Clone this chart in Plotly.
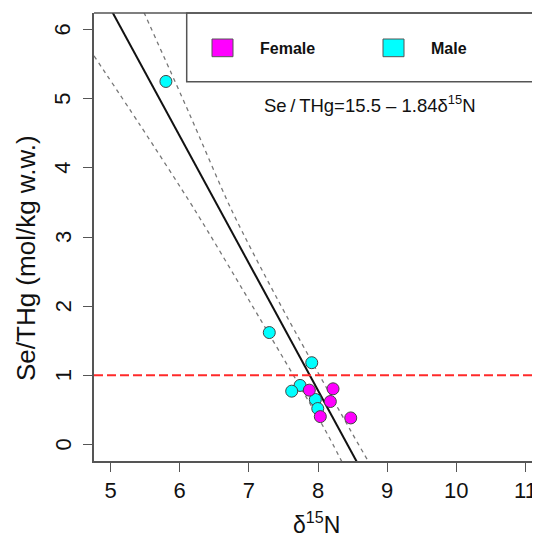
import plotly.graph_objects as go

# ---- data ----
female_x = [7.874, 8.217, 8.178, 8.033, 8.473]
female_y = [0.785, 0.804, 0.620, 0.402, 0.383]

male_x = [5.80, 7.295, 7.909, 7.740, 7.619, 7.961, 7.996]
male_y = [5.25, 1.618, 1.182, 0.853, 0.770, 0.650, 0.519]

fit_intercept = 15.5
fit_slope = -1.84

upper_x = [5.482, 6.133, 6.751, 7.425, 8.463, 8.728]
upper_y = [6.25, 4.797, 3.387, 2.078, 0.214, -0.247]
lower_x = [4.76, 5.424, 6.22, 7.006, 8.10, 8.343]
lower_y = [5.62, 4.622, 3.387, 2.078, 0.214, -0.247]

threshold = 1.0
x_ticks = [5, 6, 7, 8, 9, 10, 11]
y_ticks = [0, 1, 2, 3, 4, 5, 6]
x_range = [4.76, 11.21]
y_range = [-0.24, 6.24]

# ---- layout (page has an 8px body margin) ----
OFF = 8
W, H = 540 - OFF, 538 - OFF
PLOT_L, PLOT_R, PLOT_T, PLOT_B = 94, 540, 13, 461      # page pixels
L, R, T, B = PLOT_L - OFF, 0, PLOT_T - OFF, 538 - PLOT_B
PW, PH = PLOT_R - PLOT_L, PLOT_B - PLOT_T


def px(p):
    return (p - PLOT_L) / PW


def py(p):
    return (PLOT_B - p) / PH


FONT = "Liberation Sans, Arial, Helvetica, sans-serif"
AX = "#555555"

fig = go.Figure()

fit_x = [x_range[0], x_range[1]]
fit_y = [fit_intercept + fit_slope * v for v in fit_x]

band_line = dict(color="#777777", width=1.3, dash="4px,4px", shape="spline", smoothing=0.8)
fig.add_trace(go.Scatter(x=upper_x, y=upper_y, mode="lines", line=band_line, hoverinfo="skip", showlegend=False))
fig.add_trace(go.Scatter(x=lower_x, y=lower_y, mode="lines", line=band_line, hoverinfo="skip", showlegend=False))
fig.add_trace(go.Scatter(x=fit_x, y=fit_y, mode="lines", line=dict(color="#111111", width=2), hoverinfo="skip", showlegend=False))
fig.add_trace(go.Scatter(x=x_range, y=[threshold, threshold], mode="lines",
                         line=dict(color="#ff2a2a", width=2, dash="9px,4px"), hoverinfo="skip", showlegend=False))

fig.add_trace(go.Scatter(x=male_x, y=male_y, mode="markers", name="Male",
                         marker=dict(color="#00ffff", size=12, line=dict(color="#444444", width=1)), showlegend=False))
fig.add_trace(go.Scatter(x=female_x, y=female_y, mode="markers", name="Female",
                         marker=dict(color="#ff00ff", size=12, line=dict(color="#444444", width=1)), showlegend=False))

shapes = [
    dict(type="line", xref="paper", yref="paper", x0=0, x1=1, y0=1, y1=1, line=dict(color=AX, width=1.5)),
    dict(type="rect", xref="paper", yref="paper", x0=px(186.7), x1=1.01, y0=py(81.7), y1=1,
         line=dict(color=AX, width=1.5), fillcolor="rgba(0,0,0,0)"),
    dict(type="rect", xref="paper", yref="paper", x0=px(212), x1=px(233), y0=py(56.7), y1=py(39),
         line=dict(color="#555555", width=1), fillcolor="#ff00ff"),
    dict(type="rect", xref="paper", yref="paper", x0=px(383), x1=px(404), y0=py(56.7), y1=py(39),
         line=dict(color="#555555", width=1), fillcolor="#00ffff"),
]

annotations = [
    dict(text="<b>Female</b>", xref="paper", yref="paper", x=px(258), y=py(48.5), xanchor="left", yanchor="middle",
         showarrow=False, font=dict(family=FONT, size=16, color="#111111")),
    dict(text="<b>Male</b>", xref="paper", yref="paper", x=px(429), y=py(48.5), xanchor="left", yanchor="middle",
         showarrow=False, font=dict(family=FONT, size=16, color="#111111")),
    dict(text="Se\u2009/\u2009THg=15.5 \u2013 1.84\u03b4<sup>15</sup>N", xref="paper", yref="paper", x=px(370), y=py(104),
         xanchor="center", yanchor="middle", showarrow=False, font=dict(family=FONT, size=18.5, color="#111111")),
    dict(text="\u03b4<sup>15</sup>N", xref="paper", yref="paper", x=px(316.5), y=py(523),
         xanchor="center", yanchor="middle", showarrow=False, font=dict(family=FONT, size=23, color="#111111")),
    dict(text="Se/THg (mol/kg w.w.)", xref="paper", yref="paper", x=px(26), y=py(258), textangle=-90,
         xanchor="center", yanchor="middle", showarrow=False, font=dict(family=FONT, size=26, color="#111111")),
]

# rotated y tick labels (as in base R)
for v in y_ticks:
    annotations.append(dict(text=str(v), xref="paper", yref="y", x=px(63), y=v, textangle=-90,
                            xanchor="center", yanchor="middle", showarrow=False,
                            font=dict(family=FONT, size=22, color="#111111")))

fig.update_layout(
    width=W, height=H,
    margin=dict(l=L, r=R, t=T, b=B, pad=0),
    paper_bgcolor="white", plot_bgcolor="white",
    showlegend=False,
    shapes=shapes, annotations=annotations,
    font=dict(family=FONT, color="#111111"),
    xaxis=dict(range=x_range, tickvals=x_ticks, ticks="outside", ticklen=9, tickcolor=AX, tickwidth=1.2,
               showline=True, linecolor=AX, linewidth=1.5, showgrid=False, zeroline=False,
               tickfont=dict(family=FONT, size=22, color="#111111")),
    yaxis=dict(range=y_range, tickvals=y_ticks, ticks="outside", ticklen=9, tickcolor=AX, tickwidth=1.2,
               showticklabels=False, showline=True, linecolor=AX, linewidth=1.5,
               showgrid=False, zeroline=False),
)

fig.write_html("out.html")
